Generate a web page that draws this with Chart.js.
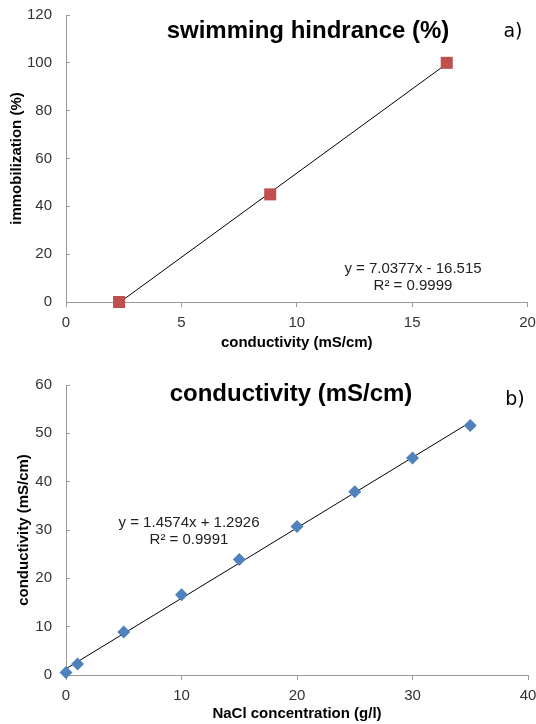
<!DOCTYPE html>
<html>
<head>
<meta charset="utf-8">
<script src="https://cdn.jsdelivr.net/npm/chart.js@4"></script>
<style>
  body { margin: 0; background: #fff; }
  .box { position: absolute; left: 0; width: 536px; }
</style>
</head>
<body>
<div class="box" style="top:0;height:360px"><canvas id="chartA" width="536" height="360"></canvas></div>
<div class="box" style="top:360px;height:364px"><canvas id="chartB" width="536" height="364"></canvas></div>
<script>
// a) swimming hindrance
var condX = [2.3, 8.85, 16.5];
var immobY = [0, 45, 100];
var trendA = [7.0377, -16.515]; // slope, intercept

// b) conductivity vs NaCl
var naclX = [0, 1, 5, 10, 15, 20, 25, 30, 35];
var condY = [0.5, 2.3, 8.9, 16.6, 23.9, 30.7, 37.9, 44.9, 51.6];
var trendB = [1.4574, 1.2926];

var font = "'Liberation Sans', Arial, sans-serif";
var axisGray = "#9a9a9a";
var tickColor = "#333333";

function points(xs, ys) {
    var out = [];
    for (let i = 0; i < xs.length; i++) out.push({x: xs[i], y: ys[i]});
    return out;
}

function trendPoints(xs, coef) {
    var x0 = xs[0], x1 = xs[xs.length - 1];
    return [{x: x0, y: coef[0] * x0 + coef[1]}, {x: x1, y: coef[0] * x1 + coef[1]}];
}

// draws the big title, the panel letter and the equation text
function textPlugin(title, titleX, titleY, letter, letterX, letterY, eq, eqX, eqY) {
    return {
        id: 'texts',
        afterDraw(chart) {
            var ctx = chart.ctx;
            ctx.save();
            ctx.fillStyle = "#000";
            ctx.textAlign = "center";
            ctx.textBaseline = "middle";
            ctx.font = "bold 24px " + font;
            ctx.fillText(title, titleX, titleY);
            ctx.font = "19px 'DejaVu Sans', sans-serif";
            ctx.fillText(letter, letterX, letterY);
            ctx.fillStyle = "#222";
            ctx.font = "15px " + font;
            ctx.fillText(eq[0], eqX, eqY);
            ctx.fillText(eq[1], eqX, eqY + 17);
            ctx.restore();
        }
    };
}

function axis(min, max, step, title, fit, tickLen, pad, titlePad) {
    return {
        type: 'linear',
        min: min,
        max: max,
        ticks: { stepSize: step, color: tickColor, font: { family: font, size: 15 }, padding: pad },
        grid: { drawOnChartArea: false, color: axisGray, tickLength: tickLen, tickColor: axisGray },
        border: { color: axisGray, width: 1 },
        title: { display: true, text: title, color: "#000", font: { family: font, size: 15, weight: 'bold' }, padding: titlePad },
        afterFit: function (s) {
            fit(s);
            // let layout padding alone decide the plot edges
            s.paddingTop = 0; s.paddingBottom = 0;
            s.paddingLeft = 0; s.paddingRight = 0;
        }
    };
}

function makeChart(id, xs, ys, coef, markerColor, style, radius, xAx, yAx, pad, plugin) {
    return new Chart(document.getElementById(id), {
        type: 'scatter',
        data: {
            datasets: [{
                type: 'line',
                data: trendPoints(xs, coef),
                borderColor: "#000",
                borderWidth: 1,
                pointRadius: 0,
                clip: false,
                order: 2
            }, {
                data: points(xs, ys),
                backgroundColor: markerColor,
                borderColor: markerColor,
                borderWidth: 0,
                pointStyle: style,
                pointRadius: radius,
                clip: false,
                order: 1
            }]
        },
        options: {
            responsive: false,
            animation: false,
            layout: { padding: pad },
            plugins: { legend: { display: false }, tooltip: { enabled: false } },
            scales: { x: xAx, y: yAx }
        },
        plugins: [plugin]
    });
}

makeChart('chartA', condX, immobY, trendA, "#C0504D", 'rect', 8.5,
    axis(0, 20, 5, "conductivity (mS/cm)", function (s) { s.height = 58; }, 5, 7, { top: 0, bottom: 8 }),
    axis(0, 120, 20, "immobilization (%)", function (s) { s.width = 66; }, -4, 18, { top: 8, bottom: 0 }),
    { top: 15, right: 8, left: 0, bottom: 0 },
    textPlugin("swimming hindrance (%)", 308, 31, "a)", 513, 32,
        ["y = 7.0377x - 16.515", "R\u00b2 = 0.9999"], 413, 269));

makeChart('chartB', naclX, condY, trendB, "#4F81BD", 'rectRot', 6.5,
    axis(0, 40, 10, "NaCl concentration (g/l)", function (s) { s.height = 49; }, 5, 7, { top: 0, bottom: 1 }),
    axis(0, 60, 10, "conductivity (mS/cm)", function (s) { s.width = 66; }, -4, 18, { top: 15, bottom: 0 }),
    { top: 25, right: 8, left: 0, bottom: 0 },
    textPlugin("conductivity (mS/cm)", 291, 34, "b)", 515, 40,
        ["y = 1.4574x + 1.2926", "R\u00b2 = 0.9991"], 189, 163));
</script>
</body>
</html>
